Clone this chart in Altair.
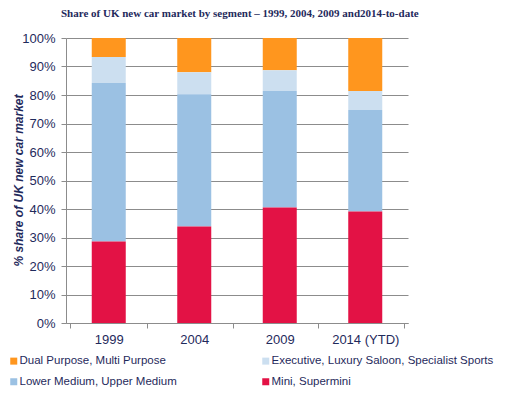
import altair as alt
import pandas as pd

years = ["1999", "2004", "2009", "2014 (YTD)"]
segments = [
    "Dual Purpose, Multi Purpose",
    "Executive, Luxury Saloon, Specialist Sports",
    "Lower Medium, Upper Medium",
    "Mini, Supermini",
]
colors = ["#FF961E", "#CCDFF0", "#9BC1E3", "#E31245"]
stack_order = [3, 2, 1, 0]  # Mini at bottom

mini = [28.6, 33.9, 40.5, 39.1]
lower = [55.6, 46.4, 40.9, 35.6]
executive = [9.1, 7.7, 7.3, 6.7]
dual = [6.7, 12.0, 11.3, 18.6]

series = {segments[0]: dual, segments[1]: executive, segments[2]: lower, segments[3]: mini}
rows = []
for si, seg in enumerate(segments):
    for yi, yr in enumerate(years):
        rows.append({"year": yr, "segment": seg, "share": series[seg][yi] / 100.0, "ord": stack_order[si]})
df = pd.DataFrame(rows)

navy = "#1F2A5C"
grey = "#8C8C8C"

chart = alt.Chart(df).mark_bar(size=34).encode(
    x=alt.X("year:N", sort=years, title=None,
            axis=alt.Axis(labelAngle=0, tickBand="extent", labelFont="Liberation Sans", labelFontSize=13,
                          labelColor=navy, domainColor=grey, tickColor=grey, tickSize=5, labelPadding=5,
                          grid=False)),
    y=alt.Y("share:Q", stack="zero", title="% share of UK new car market",
            scale=alt.Scale(domain=[0, 1], nice=False),
            axis=alt.Axis(format=".0%", values=[i / 10 for i in range(11)], labelFont="Liberation Sans",
                          labelFontSize=13, labelColor=navy, domainColor=grey, tickColor=grey, tickSize=5,
                          gridColor=grey, gridWidth=1, labelPadding=6,
                          titleFont="Liberation Sans", titleFontSize=12, titleFontWeight="bold",
                          titleFontStyle="italic", titleColor=navy,
                          titleX=-48, titleY=142, titleAlign="center", titleBaseline="middle", titleAngle=270)),
    color=alt.Color("segment:N", sort=segments, title=None,
                    scale=alt.Scale(domain=segments, range=colors),
                    legend=alt.Legend(orient="none", legendX=-58, legendY=317, columns=2, direction="horizontal",
                                      symbolType="square", symbolSize=49, symbolStrokeWidth=0,
                                      labelFont="Liberation Sans", labelFontSize=11.5, labelColor=navy,
                                      labelOffset=0, columnPadding=83, rowPadding=8, labelLimit=400)),
    order=alt.Order("ord:Q", sort="ascending"),
).properties(
    width=342, height=285,
    title=alt.Title("Share of UK new car market by segment \u2013 1999, 2004, 2009 and2014-to-date",
                    font="Liberation Serif", fontSize=11, fontWeight="bold", color=navy,
                    anchor="start", frame="group", dx=-5, offset=13),
    autosize=alt.AutoSizeParams(type="none"),
    padding={"left": 58, "top": 30, "right": 91, "bottom": 64},
).configure_view(stroke=None).configure_axisX(gridColor=grey)

chart.save("out.html", embed_options={"renderer": "svg", "actions": False})
